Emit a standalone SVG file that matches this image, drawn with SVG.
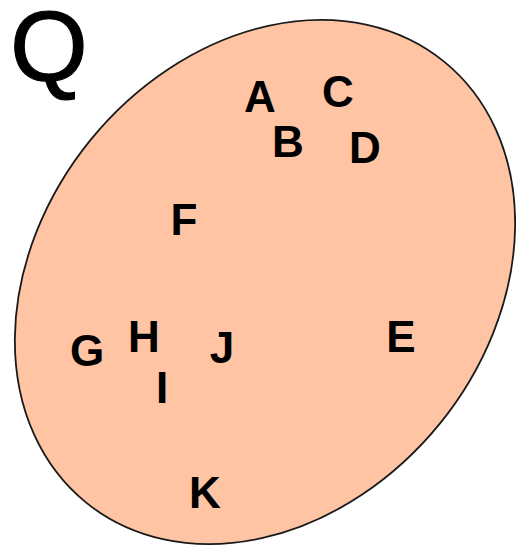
<svg xmlns="http://www.w3.org/2000/svg" width="516" height="546" viewBox="0 0 516 546">
<style>
.lbl{font-family:"Liberation Sans",Arial,sans-serif;font-weight:bold;font-size:44px;fill:#000;text-anchor:middle}
.title{font-family:"Liberation Sans",Arial,sans-serif;font-size:100px;fill:#000;stroke:#000;stroke-width:1.2;text-anchor:middle}
</style>
<rect width="516" height="546" fill="#fff"/>
<g id="set-Q">
<ellipse cx="265" cy="282" rx="284" ry="225" transform="rotate(-50.9 265 282)" fill="#FFC4A4" stroke="#1a1a1a" stroke-width="1.8"/>
<text class="title" x="49" y="81">Q</text>
</g>
<g id="A"><text class="lbl" x="260" y="112">A</text></g>
<g id="B"><text class="lbl" x="288" y="157">B</text></g>
<g id="C"><text class="lbl" x="338" y="107">C</text></g>
<g id="D"><text class="lbl" x="365" y="163">D</text></g>
<g id="E"><text class="lbl" x="401" y="352">E</text></g>
<g id="F"><text class="lbl" x="184" y="235">F</text></g>
<g id="G"><text class="lbl" x="87" y="366">G</text></g>
<g id="H"><text class="lbl" x="144" y="352">H</text></g>
<g id="I"><text class="lbl" x="162" y="403">I</text></g>
<g id="J"><text class="lbl" x="222" y="363">J</text></g>
<g id="K"><text class="lbl" x="205" y="508">K</text></g>
<g id="connectors"/>
</svg>
